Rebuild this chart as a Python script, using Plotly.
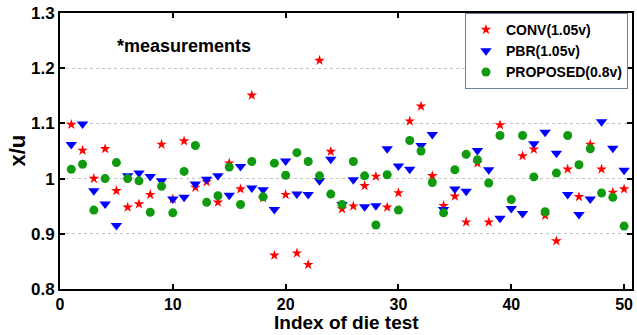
import plotly.graph_objects as go

# Die index (1..50) and normalized x/u ratio per scheme
die_index = list(range(1, 51))

conv_105v = [
    1.098, 1.051, 1.000, 1.054, 0.978, 0.948, 0.954, 0.971, 1.062, 0.963,
    1.068, 0.984, 0.994, 0.957, 1.028, 0.981, 1.151, 0.965, 0.861, 0.971,
    0.865, 0.844, 1.214, 1.049, 0.945, 0.950, 0.987, 1.004, 0.948, 0.974,
    1.104, 1.131, 1.005, 0.951, 0.968, 0.921, 1.028, 0.921, 1.097, 1.170,
    1.041, 1.053, 0.933, 0.887, 1.017, 0.967, 1.062, 1.017, 0.975, 0.981,
]

pbr_105v = [
    1.062, 1.099, 0.978, 0.954, 0.915, 1.005, 1.010, 1.004, 0.996, 0.963,
    0.966, 0.990, 0.999, 1.005, 0.970, 1.022, 0.983, 0.980, 0.944, 1.032,
    0.972, 0.971, 0.996, 1.035, 0.953, 0.998, 0.949, 0.951, 1.054, 1.023,
    1.017, 1.060, 1.080, 0.944, 0.981, 0.977, 1.051, 1.016, 0.928, 0.946,
    0.937, 1.063, 1.084, 1.046, 0.971, 0.935, 0.963, 1.103, 1.055, 1.015,
]

proposed_08v = [
    1.017, 1.026, 0.943, 1.000, 1.029, 1.000, 0.996, 0.939, 0.986, 0.938,
    1.013, 1.060, 0.957, 0.969, 1.021, 0.953, 1.031, 0.967, 1.028, 1.006,
    1.047, 1.031, 1.005, 0.972, 0.953, 1.031, 1.005, 0.916, 1.007, 0.943,
    1.069, 1.050, 0.993, 0.938, 1.016, 1.044, 1.034, 0.992, 1.078, 0.962,
    1.078, 1.003, 0.940, 1.010, 1.078, 1.025, 1.054, 0.974, 0.966, 0.914,
]

series_names = ["CONV(1.05v)", "PBR(1.05v)", "PROPOSED(0.8v)"]

x_ticks = [0, 10, 20, 30, 40, 50]
y_ticks = [0.8, 0.9, 1.0, 1.1, 1.2, 1.3]
y_tick_text = ["0.8", "0.9", "1", "1.1", "1.2", "1.3"]

FONT = "Liberation Sans, Arial, Helvetica, sans-serif"

fig = go.Figure()

fig.add_trace(go.Scatter(
    x=die_index, y=conv_105v, mode="markers", name=series_names[0],
    marker=dict(symbol="star", size=8, color="#ff0000", line=dict(width=0)),
))
fig.add_trace(go.Scatter(
    x=die_index, y=pbr_105v, mode="markers", name=series_names[1],
    marker=dict(symbol="triangle-down", size=10, color="#0000ff", line=dict(width=0)),
))
fig.add_trace(go.Scatter(
    x=die_index, y=proposed_08v, mode="markers", name=series_names[2],
    marker=dict(symbol="circle", size=9, color="#109a10", line=dict(width=0)),
))

axis_common = dict(
    showline=True, linecolor="#000000", linewidth=2, mirror="ticks",
    ticks="inside", ticklen=5, tickwidth=2, tickcolor="#000000",
    zeroline=False,
)

fig.update_xaxes(
    range=[0, 50.7], tickvals=x_ticks, showgrid=False,
    tickfont=dict(family=FONT, size=16, color="#000000", weight="bold"),
    **axis_common,
)
fig.update_yaxes(
    range=[0.8, 1.3], tickvals=y_ticks, ticktext=y_tick_text,
    showgrid=True, gridcolor="#c4c4c4", gridwidth=1, griddash="dot",
    tickfont=dict(family=FONT, size=17, color="#000000", weight="bold"),
    **axis_common,
)

fig.add_annotation(
    text="*measurements", x=4.9, y=1.24, xref="x", yref="y",
    xanchor="left", yanchor="middle", showarrow=False,
    font=dict(family=FONT, size=18, color="#000000", weight="bold"),
)
fig.add_annotation(
    text="x/u", x=-0.076, y=0.5, xref="paper", yref="paper",
    xanchor="center", yanchor="middle", textangle=-90, showarrow=False,
    font=dict(family=FONT, size=22, color="#000000", weight="bold"),
)
fig.add_annotation(
    text="Index of die test", x=0.5, y=-0.1646, xref="paper", yref="paper",
    xanchor="center", yanchor="bottom", showarrow=False, borderpad=0,
    font=dict(family=FONT, size=19, color="#000000", weight="bold"),
)

fig.update_layout(
    width=637, height=335,
    margin=dict(l=59.5, r=3, t=13, b=45.5),
    paper_bgcolor="#ffffff", plot_bgcolor="#ffffff",
    showlegend=True,
    legend=dict(
        x=0.708, y=1.0, xanchor="left", yanchor="top",
        bgcolor="#ffffff", bordercolor="#6f7f9f", borderwidth=1,
        font=dict(family=FONT, size=14, color="#000000", weight="bold"),
        itemwidth=30, tracegroupgap=0,
    ),
)

fig.write_html("out.html")
